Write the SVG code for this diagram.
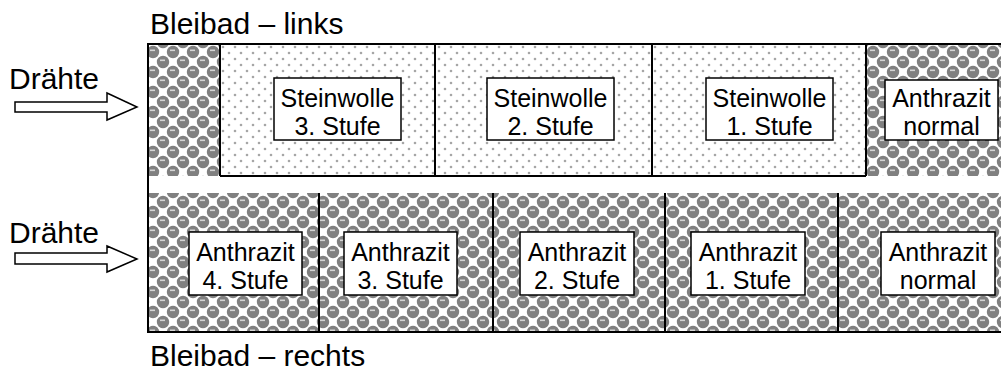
<svg xmlns="http://www.w3.org/2000/svg" width="1003" height="376" viewBox="0 0 1003 376">
  <style>
    .t { font-family: "Liberation Sans", Arial, sans-serif; fill: #000; }
    .title { font-size: 30px; }
    .lbl { font-size: 25px; text-anchor: middle; }
    .box { fill: #fff; stroke: #000; stroke-width: 1.5; }
    .div { stroke: #000; stroke-width: 2; fill: none; }
    .arrow { fill: #fff; stroke: #000; stroke-width: 1.5; stroke-linejoin: miter; }
  </style>
  <defs>
    <!-- fine grey dot screen -->
    <pattern id="dots" patternUnits="userSpaceOnUse" x="220" y="44" width="12" height="12">
      <rect width="12" height="12" fill="#fff"/>
      <circle cx="3" cy="3" r="1.3" fill="#a6a6a6"/>
      <circle cx="9" cy="9" r="1.3" fill="#a6a6a6"/>
    </pattern>
    <!-- shaded sphere checker -->
    <pattern id="spheres" patternUnits="userSpaceOnUse" x="148" y="47" width="20" height="20">
      <rect width="20" height="20" fill="#fff"/>
      <circle cx="5" cy="5" r="6.2" fill="#808080"/>
      <circle cx="15" cy="15" r="6.2" fill="#808080"/>
      <circle cx="-5" cy="15" r="6.2" fill="#808080"/>
      <circle cx="15" cy="-5" r="6.2" fill="#808080"/>
      <circle cx="25" cy="5" r="6.2" fill="#808080"/>
      <circle cx="5" cy="25" r="6.2" fill="#808080"/>
      <rect x="2" y="2.5" width="5" height="1.6" fill="#d4d4d4"/>
      <rect x="12" y="12.5" width="5" height="1.6" fill="#d4d4d4"/>
      <rect x="12" y="2" width="6" height="6" fill="#fff"/>
      <rect x="2" y="12" width="6" height="6" fill="#fff"/>
    </pattern>
  </defs>

  <!-- band titles -->
  <text class="t title" x="150" y="34">Bleibad – links</text>
  <text class="t title" x="150" y="366">Bleibad – rechts</text>

  <!-- upper bath -->
  <g id="upper-bath">
    <rect x="148" y="44" width="72" height="132" fill="url(#spheres)"/>
    <rect x="220" y="44" width="646" height="132" fill="url(#dots)"/>
    <rect x="866" y="44" width="135" height="132" fill="url(#spheres)"/>
    <path class="div" d="M148,44 H1001 M220,176 H866 M220,44 V176 M435,44 V176 M652,44 V176 M866,44 V176"/>
  </g>

  <!-- lower bath -->
  <g id="lower-bath">
    <rect x="148" y="193" width="853" height="139" fill="url(#spheres)"/>
    <path class="div" d="M148,332 H1001 M319,193 V332 M493,193 V332 M665,193 V332 M838,193 V332"/>
  </g>

  <!-- left edge shared by both baths -->
  <line class="div" x1="148" y1="43" x2="148" y2="333"/>

  <g id="sw3">
    <rect class="box" x="274" y="78" width="127" height="62"/>
    <text class="t lbl" x="337.5" y="107">Steinwolle</text>
    <text class="t lbl" x="337.5" y="135">3. Stufe</text>
  </g>
  <g id="sw2">
    <rect class="box" x="487" y="78" width="127" height="62"/>
    <text class="t lbl" x="550.5" y="107">Steinwolle</text>
    <text class="t lbl" x="550.5" y="135">2. Stufe</text>
  </g>
  <g id="sw1">
    <rect class="box" x="706" y="78" width="127" height="62"/>
    <text class="t lbl" x="769.5" y="107">Steinwolle</text>
    <text class="t lbl" x="769.5" y="135">1. Stufe</text>
  </g>
  <g id="an-top-normal">
    <rect class="box" x="885" y="80" width="113" height="60"/>
    <text class="t lbl" x="941.5" y="107">Anthrazit</text>
    <text class="t lbl" x="941.5" y="135">normal</text>
  </g>

  <g id="an4">
    <rect class="box" x="189" y="232" width="113" height="63"/>
    <text class="t lbl" x="245.5" y="261">Anthrazit</text>
    <text class="t lbl" x="245.5" y="289">4. Stufe</text>
  </g>
  <g id="an3">
    <rect class="box" x="344" y="232" width="113" height="63"/>
    <text class="t lbl" x="400.5" y="261">Anthrazit</text>
    <text class="t lbl" x="400.5" y="289">3. Stufe</text>
  </g>
  <g id="an2">
    <rect class="box" x="520" y="232" width="114" height="63"/>
    <text class="t lbl" x="577" y="261">Anthrazit</text>
    <text class="t lbl" x="577" y="289">2. Stufe</text>
  </g>
  <g id="an1">
    <rect class="box" x="691" y="232" width="114" height="63"/>
    <text class="t lbl" x="748" y="261">Anthrazit</text>
    <text class="t lbl" x="748" y="289">1. Stufe</text>
  </g>
  <g id="an-bottom-normal">
    <rect class="box" x="881" y="232" width="114" height="63"/>
    <text class="t lbl" x="938" y="261">Anthrazit</text>
    <text class="t lbl" x="938" y="289">normal</text>
  </g>

  <!-- wire feed labels -->
  <g id="feed-top">
    <text class="t title" x="9" y="89">Drähte</text>
  </g>
  <g id="feed-bottom">
    <text class="t title" x="9" y="243">Drähte</text>
  </g>

  <g id="connectors">
    <path class="arrow" d="M15,102 H107 V93 L137,107 L107,120 V112 H15 Z"/>
    <path class="arrow" d="M15,253 H107 V246 L137,259 L107,272 V264 H15 Z"/>
  </g>
</svg>
